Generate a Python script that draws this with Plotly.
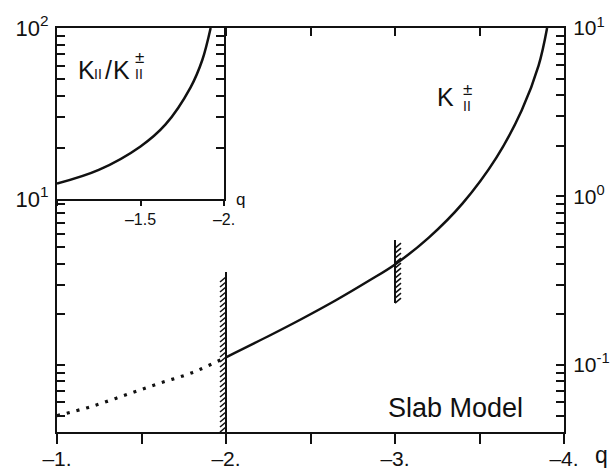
import numpy as np
import plotly.graph_objects as go

# ---- data -------------------------------------------------------------
# K_II^± versus q (slab model): dotted below q = -2, solid above
q_dot = [-1.0, -1.2, -1.4, -1.6, -1.8, -2.0]
k_dot = [0.050, 0.0565, 0.066, 0.0775, 0.090, 0.111]

q_solid = [-2.0, -2.25, -2.45, -2.65, -2.85, -3.0, -3.2, -3.4, -3.6, -3.75, -3.85, -3.9]
k_solid = [0.111, 0.148, 0.188, 0.242, 0.318, 0.395, 0.57, 0.91, 1.70, 3.25, 6.0, 10.0]

# inset: ratio K_II / K_II^±
q_ratio = [-1.0, -1.25, -1.5, -1.65, -1.8, -1.87, -1.92]
ratio = [12.3, 14.8, 20.3, 27.3, 45.0, 65.0, 100.0]

# hatched limit markers: position, lower/upper value, hatch side (+1 left, -1 right)
bar_q = [-2.0, -3.0]
bar_lo = [10 ** -1.398, 0.233]
bar_hi = [0.356, 0.552]
bar_side = [1, -1]

# axis ticks / labels
x_ticks = [-1.0, -1.5, -2.0, -2.5, -3.0, -3.5, -4.0]
x_labels = ["–1.", "", "–2.", "", "–3.", "", "–4."]
y_main_range = [-1.398, 1.0]
inset_x_ticks = [-1.0, -1.5, -2.0]
inset_x_labels = ["", "–1.5", "–2."]

FONT = "Liberation Sans, Arial, sans-serif"
BLACK = "#111111"


def log_ticks(lo_exp, hi_exp, labels):
    vals, text = [], []
    for e in range(lo_exp, hi_exp + 1):
        for m in range(1, 10):
            v = m * 10.0 ** e
            vals.append(v)
            text.append(labels.get(e, "") if m == 1 else "")
    return vals, text


y_vals, y_text = log_ticks(-2, 1, {1: "10<sup>1</sup>", 0: "10<sup>0</sup>", -1: "10<sup>-1</sup>"})
y_keep = [(v, t) for v, t in zip(y_vals, y_text) if 10 ** y_main_range[0] <= v <= 10.0001]
y_vals, y_text = [v for v, _ in y_keep], [t for _, t in y_keep]

y2_vals, y2_text = log_ticks(1, 2, {1: "10<sup>1</sup>", 2: "10<sup>2</sup>"})
y2_keep = [(v, t) for v, t in zip(y2_vals, y2_text) if v <= 100.0001]
y2_vals, y2_text = [v for v, _ in y2_keep], [t for _, t in y2_keep]

fig = go.Figure()

fig.add_trace(go.Scatter(
    x=q_dot, y=k_dot, mode="lines", line=dict(color=BLACK, width=3.2, dash="3px,7px", shape="spline"),
    hoverinfo="skip", showlegend=False))
fig.add_trace(go.Scatter(
    x=q_solid, y=k_solid, mode="lines", line=dict(color=BLACK, width=2.5, shape="spline"),
    hoverinfo="skip", showlegend=False))

# hatched vertical limit markers
px_q = 3.0 / 507.0            # q units per pixel on the main axis
px_dec = (y_main_range[1] - y_main_range[0]) / 404.0  # decades per pixel
hatch_w, hatch_rise, hatch_step = 6 * px_q, 5 * px_dec, 5 * px_dec
for q0, lo, hi, side in zip(bar_q, bar_lo, bar_hi, bar_side):
    fig.add_trace(go.Scatter(
        x=[q0, q0], y=[lo, hi], mode="lines", line=dict(color=BLACK, width=2),
        hoverinfo="skip", showlegend=False))
    hx, hy = [], []
    ly = np.log10(lo)
    while ly + hatch_rise <= np.log10(hi) + 1e-9:
        if side > 0:
            hx += [q0 + hatch_w, q0, None]
        else:
            hx += [q0, q0 - hatch_w, None]
        hy += [10 ** ly, 10 ** (ly + hatch_rise), None]
        ly += hatch_step
    fig.add_trace(go.Scatter(
        x=hx, y=hy, mode="lines", line=dict(color=BLACK, width=1.6),
        hoverinfo="skip", showlegend=False))

# inset curve
fig.add_trace(go.Scatter(
    x=q_ratio, y=ratio, mode="lines", line=dict(color=BLACK, width=2.5, shape="spline"),
    xaxis="x2", yaxis="y2", hoverinfo="skip", showlegend=False))

axis_common = dict(showgrid=False, zeroline=False, showline=True, linecolor=BLACK,
                   linewidth=2, tickcolor=BLACK, tickwidth=2, automargin=False)

fig.update_layout(
    width=613, height=474,
    margin=dict(l=57, r=49, t=28, b=42),
    paper_bgcolor="white", plot_bgcolor="white",
    font=dict(family=FONT, color=BLACK),
    xaxis=dict(**axis_common, domain=[0, 1], range=[-1, -4], anchor="y",
               tickmode="array", tickvals=x_ticks, ticktext=x_labels,
               ticks="outside", ticklen=10, tickfont=dict(size=21),
               ticklabelstandoff=-3),
    xaxis3=dict(**axis_common, overlaying="x", side="top", range=[-1, -4], anchor="y",
                tickmode="array", tickvals=[-1.5, -2.0, -2.5, -3.0, -3.5],
                ticks="inside", ticklen=8, showticklabels=False),
    yaxis=dict(**axis_common, type="log", range=y_main_range, domain=[0, 1], anchor="x",
               side="right", mirror="ticks", ticks="inside", ticklen=8,
               tickmode="array", tickvals=y_vals, ticktext=y_text,
               tickfont=dict(size=21), ticklabelstandoff=3),
    xaxis2=dict(**axis_common, domain=[0, 0.3294], range=[-1, -2], anchor="y2",
                mirror=True, tickmode="array", tickvals=inset_x_ticks, ticktext=inset_x_labels,
                ticks="outside", ticklen=5, tickfont=dict(size=16)),
    yaxis2=dict(**axis_common, type="log", range=[1, 2], domain=[0.5767, 1], anchor="x2",
                side="left", mirror="ticks", ticks="inside", ticklen=8,
                tickmode="array", tickvals=y2_vals, ticktext=y2_text,
                tickfont=dict(size=22), ticklabelstandoff=2),
)

# a dummy trace so the top tick axis is rendered
fig.add_trace(go.Scatter(x=[None], y=[None], xaxis="x3", yaxis="y",
                         hoverinfo="skip", showlegend=False))


def px_to_paper(px, py):
    return (px - 57) / 507.0, (432 - py) / 404.0


def label(text, px, py, size, anchor="center"):
    x, y = px_to_paper(px, py)
    fig.add_annotation(text=text, x=x, y=y, xref="paper", yref="paper",
                       xanchor=anchor, yanchor="middle", showarrow=False,
                       font=dict(size=size, family=FONT, color=BLACK))


# main curve label  K^±_II
label("K", 445, 97, 25)
label("±", 467, 89, 17)
label("II", 467, 106, 14)

# inset label  K_II / K^±_II
label("K", 86, 70, 25)
label("II", 98, 74, 14)
label("/", 108, 70, 25)
label("K", 121, 70, 25)
label("±", 139, 58, 17)
label("II", 139, 74, 14)

label("Slab Model", 455, 408, 27)
label("q", 601, 455, 23)
label("q", 240, 199, 17)

fig.write_html("out.html")
